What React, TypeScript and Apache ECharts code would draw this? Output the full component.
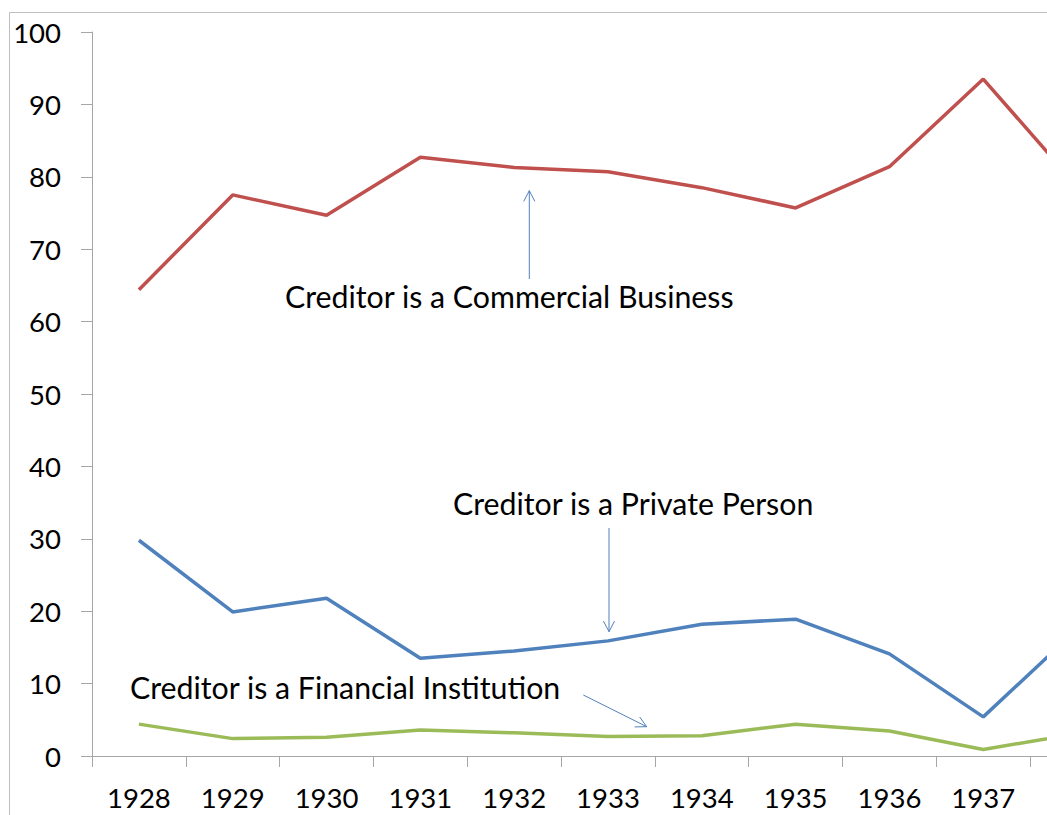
import React, { useEffect, useRef } from "react";
import * as echarts from "echarts";

const years = ["1928", "1929", "1930", "1931", "1932", "1933", "1934", "1935", "1936", "1937", "1938"];
const commercial = [64.4, 77.5, 74.7, 82.7, 81.3, 80.7, 78.5, 75.7, 81.4, 93.5, 78.7];
const privatePerson = [29.8, 19.9, 21.8, 13.5, 14.5, 15.9, 18.2, 18.9, 14.1, 5.4, 17.5];
const financial = [4.4, 2.4, 2.6, 3.6, 3.2, 2.7, 2.8, 4.4, 3.45, 0.9, 3.1];
const yTicks = { min: 0, max: 100, interval: 10 };

const FONT = "Lato";
const ARROW = "#4F81BD";

function arrow(x1: number, y1: number, x2: number, y2: number) {
  const a = Math.atan2(y2 - y1, x2 - x1);
  const len = 12;
  const spread = 0.48;
  const p1 = [x2 - len * Math.cos(a - spread), y2 - len * Math.sin(a - spread)];
  const p2 = [x2 - len * Math.cos(a + spread), y2 - len * Math.sin(a + spread)];
  return [
    { type: "line", shape: { x1, y1, x2, y2 }, style: { stroke: ARROW, lineWidth: 1 }, z: 10 },
    { type: "polyline", shape: { points: [p1, [x2, y2], p2] }, style: { stroke: ARROW, lineWidth: 1, fill: "none" }, z: 10 },
  ];
}

function label(text: string, x: number, y: number) {
  return {
    type: "text",
    x,
    y,
    style: { text, fontFamily: FONT, fontSize: 30.3, fill: "#000", textVerticalAlign: "middle", textAlign: "left" },
    z: 10,
  };
}

export default function App() {
  const ref = useRef<HTMLDivElement>(null);
  useEffect(() => {
    document.body.style.margin = "0";
    document.body.style.overflow = "hidden";
    const chart = echarts.init(ref.current!, undefined, { renderer: "svg" });
    const axisColor = "#A6A6A6";
    chart.setOption({
      animation: false,
      backgroundColor: "#fff",
      grid: { left: 92, top: 32, right: 16, bottom: 59, containLabel: false, outerBoundsMode: "none" },
      xAxis: {
        type: "category",
        data: years,
        boundaryGap: true,
        axisLine: { lineStyle: { color: axisColor, width: 1 } },
        axisTick: { show: true, length: 11, lineStyle: { color: axisColor } },
        axisLabel: {
          color: "#000",
          fontFamily: FONT,
          fontSize: 27.5,
          margin: 27,
          interval: 0,
          formatter: (v: string) => (v === "1938" ? "" : v),
        },
        splitLine: { show: false },
      },
      yAxis: {
        type: "value",
        min: yTicks.min,
        max: yTicks.max,
        interval: yTicks.interval,
        axisLine: { show: true, lineStyle: { color: axisColor, width: 1 } },
        axisTick: { show: true, length: 11, lineStyle: { color: axisColor } },
        axisLabel: { color: "#000", fontFamily: FONT, fontSize: 27.5, margin: 31 },
        splitLine: { show: false },
      },
      series: [
        { name: "Creditor is a Commercial Business", type: "line", data: commercial, symbol: "none", lineStyle: { color: "#C0504D", width: 3.5 }, z: 5 },
        { name: "Creditor is a Private Person", type: "line", data: privatePerson, symbol: "none", lineStyle: { color: "#4F81BD", width: 3.5 }, z: 5 },
        { name: "Creditor is a Financial Institution", type: "line", data: financial, symbol: "none", lineStyle: { color: "#9BBB59", width: 3.5 }, z: 5 },
      ],
      graphic: [
        { type: "rect", shape: { x: 9.5, y: 12.5, width: 1300, height: 1000 }, style: { stroke: "#BFBFBF", fill: "none", lineWidth: 1 }, z: 0, silent: true },
        label("Creditor is a Commercial Business", 285, 296),
        label("Creditor is a Private Person", 453, 503),
        label("Creditor is a Financial Institution", 130, 687),
        ...arrow(529.3, 279, 529.3, 190.7),
        ...arrow(609, 528, 609, 631.7),
        ...arrow(583.3, 695, 646.7, 726.7),
      ],
    });
    return () => chart.dispose();
  }, []);
  return (
    <div style={{ width: 1047, height: 815, overflow: "hidden", position: "relative" }}>
      <div ref={ref} style={{ width: 1140, height: 815 }} />
    </div>
  );
}
